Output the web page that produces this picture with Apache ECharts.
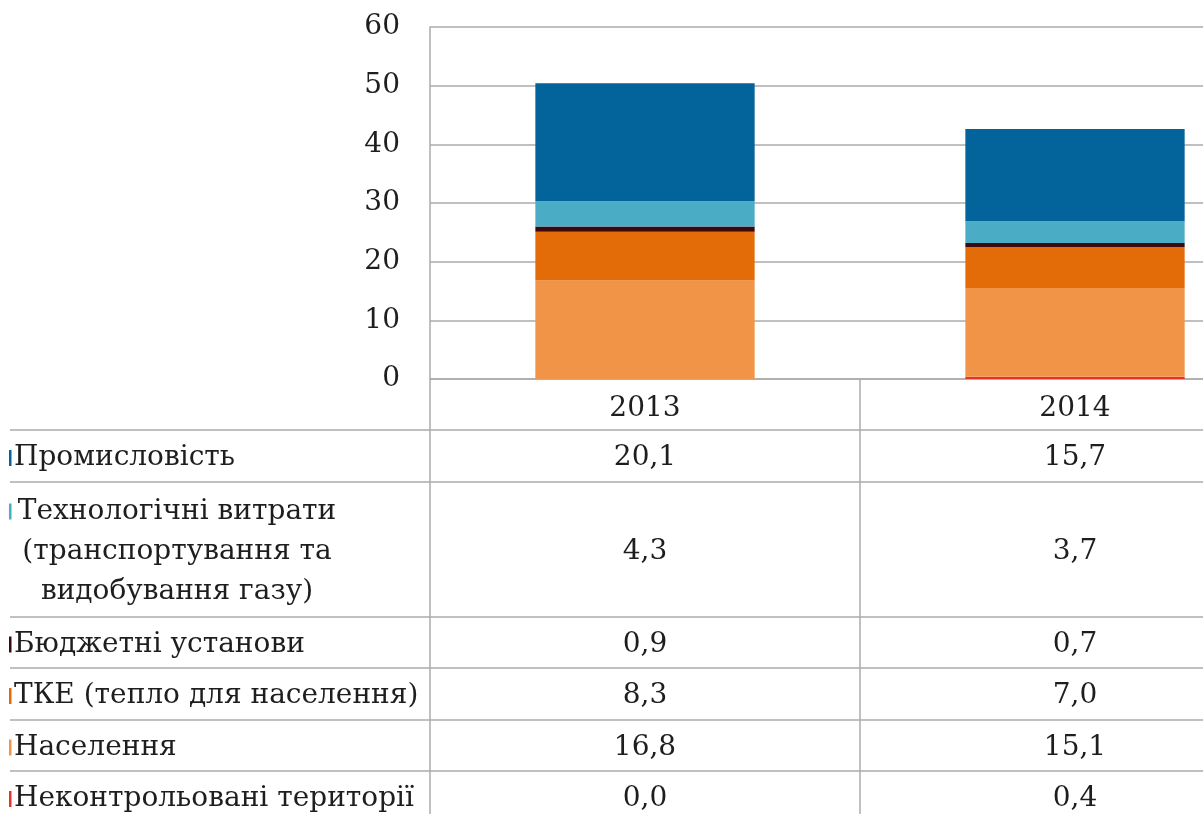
<!DOCTYPE html>
<html>
<head>
<meta charset="utf-8">
<script src="https://cdn.jsdelivr.net/npm/echarts@6/dist/echarts.min.js"></script>
<style>
  html, body { margin: 0; padding: 0; background: #fff; }
  #Chart { width: 1203px; height: 814px; }
</style>
</head>
<body>
<div id="Chart"></div>
<script>
// Стовпчики за роками + таблиця даних під ними

const years = ['2013', '2014'];
// знизу вгору, як у стеку
const nekontrol = [0.0, 0.4];
const naselennia = [16.8, 15.1];
const tke = [8.3, 7.0];
const biudzhetni = [0.9, 0.7];
const tekhnolohichni = [4.3, 3.7];
const promyslovist = [20.1, 15.7];

const seriesNames = [
    'Неконтрольовані території',
    'Населення',
    'ТКЕ (тепло для населення)',
    'Бюджетні установи',
    'Технологічні витрати (транспортування та видобування газу)',
    'Промисловість'
];
const seriesData = [nekontrol, naselennia, tke, biudzhetni, tekhnolohichni, promyslovist];
const seriesColors = ['#e8322a', '#f29447', '#e36c09', '#3b0a0e', '#4bacc6', '#02649a'];

// підписи рядків таблиці (зверху вниз)
const rowLabels = [
    'Промисловість',
    'Технологічні витрати\n(транспортування та\nвидобування газу)',
    'Бюджетні установи',
    'ТКЕ (тепло для населення)',
    'Населення',
    'Неконтрольовані території'
];
const yTicks = { min: 0, max: 60, interval: 10 };

const fontFamily = 'DejaVu Serif';
const fontSize = 28;
const textColor = '#1e1e1e';
const lineColor = '#ababab';

const option = {
    backgroundColor: '#ffffff',
    animation: false,
    grid: {
        left: 430,
        top: 27,
        width: 860,
        height: 352,
        outerBoundsMode: 'none',
        containLabel: false
    },
    xAxis: {
        type: 'category',
        data: years,
        boundaryGap: true,
        axisLine: { show: true, lineStyle: { color: lineColor, width: 1.5 } },
        axisTick: { show: false },
        axisLabel: {
            margin: 16,
            color: textColor,
            fontFamily: fontFamily,
            fontSize: fontSize
        }
    },
    yAxis: {
        type: 'value',
        min: yTicks.min,
        max: yTicks.max,
        interval: yTicks.interval,
        axisLine: { show: true, lineStyle: { color: lineColor, width: 1.5 } },
        axisTick: { show: false },
        axisLabel: {
            margin: 30,
            color: textColor,
            fontFamily: fontFamily,
            fontSize: fontSize
        },
        splitLine: { show: true, lineStyle: { color: lineColor, width: 1.5 } }
    },
    series: seriesData.map((d, i) => ({
        name: seriesNames[i],
        type: 'bar',
        stack: 'total',
        barWidth: '51%',
        itemStyle: { color: seriesColors[i] },
        data: d
    }))
};

const myChart = echarts.init(document.getElementById('Chart'));
myChart.setOption(option);

// таблиця даних
const rowHeights = [52, 135, 51, 52, 51, 52];
const tableTop = 430;
const graphic = [];
const hLine = (y) => ({
    type: 'line', silent: true,
    shape: { x1: 10, y1: y, x2: 1203, y2: y },
    style: { stroke: lineColor, lineWidth: 1.5 }
});
graphic.push(hLine(tableTop));
graphic.push({
    type: 'line', silent: true,
    shape: { x1: 430, y1: 379, x2: 430, y2: 814 },
    style: { stroke: lineColor, lineWidth: 1.5 }
});
const x0 = myChart.convertToPixel({ xAxisIndex: 0 }, 0);
const x1 = myChart.convertToPixel({ xAxisIndex: 0 }, 1);
const midX = (x0 + x1) / 2;
graphic.push({
    type: 'line', silent: true,
    shape: { x1: midX, y1: 379, x2: midX, y2: 814 },
    style: { stroke: lineColor, lineWidth: 1.5 }
});

let y = tableTop;
rowLabels.forEach((label, r) => {
    const h = rowHeights[r];
    const cy = y + h / 2 + 2;
    const si = seriesData.length - 1 - r;
    const multi = label.indexOf('\n') >= 0;
    const lines = label.split('\n').length;
    const lh = 40;
    // ключ легенди
    graphic.push({
        type: 'rect', silent: true,
        shape: { x: 9, y: (multi ? cy - (lines - 1) * lh / 2 : cy) - 8, width: 2.5, height: 16 },
        style: { fill: seriesColors[si] }
    });
    graphic.push({
        type: 'text', silent: true,
        style: {
            text: label,
            x: multi ? 177 : 14,
            y: cy,
            align: multi ? 'center' : 'left',
            verticalAlign: 'middle',
            lineHeight: lh,
            fill: textColor,
            fontFamily: fontFamily,
            fontSize: fontSize
        }
    });
    years.forEach((yr, c) => {
        graphic.push({
            type: 'text', silent: true,
            style: {
                text: seriesData[si][c].toFixed(1).replace('.', ','),
                x: myChart.convertToPixel({ xAxisIndex: 0 }, c),
                y: cy,
                align: 'center',
                verticalAlign: 'middle',
                fill: textColor,
                fontFamily: fontFamily,
                fontSize: fontSize
            }
        });
    });
    y += h;
    if (r < rowLabels.length - 1) graphic.push(hLine(y));
});

myChart.setOption({ graphic: graphic });
</script>
</body>
</html>
